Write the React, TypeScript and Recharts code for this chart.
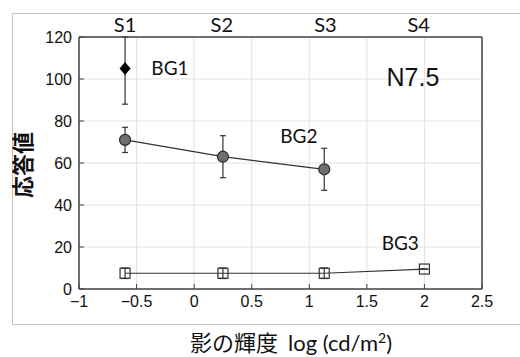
import React from 'react';
import { ComposedChart, Scatter, XAxis, YAxis, CartesianGrid, ErrorBar, ReferenceDot } from 'recharts';

const xTicks = [-1, -0.5, 0, 0.5, 1, 1.5, 2, 2.5];
const yTicks = [0, 20, 40, 60, 80, 100, 120];
const stimulusNames = ['S1', 'S2', 'S3', 'S4'];
const stimulusX = [-0.6, 0.24, 1.14, 1.95];

// BG1: single point, BG2 / BG3 connected
const bg1 = [{ x: -0.6, y: 105, err: [17, 15] }];
const bg2 = [
  { x: -0.6, y: 71, err: [6, 6] },
  { x: 0.25, y: 63, err: [10, 10] },
  { x: 1.13, y: 57, err: [10, 10] },
];
const bg3 = [
  { x: -0.6, y: 7.5, err: [2.5, 2.5] },
  { x: 0.25, y: 7.5, err: [2.5, 2.5] },
  { x: 1.13, y: 7.5, err: [2.5, 2.5] },
  { x: 2.0, y: 9.5, err: [0, 0] },
];

const notes = [
  { text: 'BG1', x: -0.21, y: 105, size: 19, font: 'Lato' },
  { text: 'N7.5', x: 1.9, y: 101, size: 25, font: 'Liberation Sans' },
  { text: 'BG2', x: 0.91, y: 72.5, size: 19, font: 'Lato' },
  { text: 'BG3', x: 1.79, y: 22, size: 19, font: 'Lato' },
];

const axisColor = '#444';
const numFont = 'Liberation Sans';
const fmt = (v: number) => String(v).replace('-', '\u2212');

const Diamond = (p: any) => (
  <path d={`M${p.cx},${p.cy - 6.5} L${p.cx + 5.5},${p.cy} L${p.cx},${p.cy + 6.5} L${p.cx - 5.5},${p.cy} Z`} fill="#000" />
);
const Dot = (p: any) => <circle cx={p.cx} cy={p.cy} r={5.5} fill="#6f6f6f" stroke="#2a2a2a" strokeWidth={1.2} />;
const Box = (p: any) => <rect x={p.cx - 5} y={p.cy - 5} width={10} height={10} fill="none" stroke="#333" strokeWidth={1.2} />;

export default function App() {
  return (
    <div style={{ position: 'fixed', left: 0, top: 0, width: 520, height: 357, background: '#fff' }}>
      <div style={{ position: 'absolute', left: 12, top: 13, width: 520, height: 310, border: '1px solid #c4c4c4' }} />
      <div style={{ position: 'absolute', left: 0, top: 0 }}>
        <ComposedChart width={520} height={357} margin={{ top: 36, right: 37, bottom: 0, left: 0 }}>
          <CartesianGrid stroke="#e2e2e2" />
          <XAxis
            type="number"
            dataKey="x"
            domain={[-1, 2.5]}
            ticks={xTicks}
            interval={0}
            allowDataOverflow
            height={68}
            tickSize={-5}
            tickMargin={12}
            tickFormatter={fmt}
            axisLine={{ stroke: axisColor, strokeWidth: 1.5 }}
            tickLine={{ stroke: axisColor }}
            tick={{ fill: '#111', fontSize: 16, fontFamily: numFont }}
          />
          <XAxis
            xAxisId="top"
            orientation="top"
            type="number"
            domain={[-1, 2.5]}
            ticks={xTicks}
            interval={0}
            allowDataOverflow
            height={1}
            tick={false}
            tickSize={-5}
            axisLine={{ stroke: axisColor, strokeWidth: 1.5 }}
            tickLine={{ stroke: axisColor }}
          />
          <YAxis
            type="number"
            dataKey="y"
            domain={[0, 120]}
            ticks={yTicks}
            interval={0}
            allowDataOverflow
            width={79}
            tickSize={-5}
            tickMargin={12}
            axisLine={{ stroke: axisColor, strokeWidth: 1.5 }}
            tickLine={{ stroke: axisColor }}
            tick={{ fill: '#111', fontSize: 16, fontFamily: numFont }}
          />
          <YAxis
            yAxisId="right"
            orientation="right"
            type="number"
            domain={[0, 120]}
            ticks={yTicks}
            interval={0}
            allowDataOverflow
            width={1}
            tick={false}
            tickSize={-5}
            axisLine={{ stroke: axisColor, strokeWidth: 1.5 }}
            tickLine={{ stroke: axisColor }}
          />
          <Scatter data={bg3} isAnimationActive={false} line={{ stroke: '#333', strokeWidth: 1.2 }} shape={Box}>
            <ErrorBar dataKey="err" direction="y" width={4} stroke="#333" strokeWidth={1.2} />
          </Scatter>
          <Scatter data={bg2} isAnimationActive={false} line={{ stroke: '#333', strokeWidth: 1.2 }} shape={Dot}>
            <ErrorBar dataKey="err" direction="y" width={3} stroke="#333" strokeWidth={1.2} />
          </Scatter>
          <Scatter data={bg1} isAnimationActive={false} shape={Diamond}>
            <ErrorBar dataKey="err" direction="y" width={3} stroke="#333" strokeWidth={1.2} />
          </Scatter>
          {notes.map((n) => (
            <ReferenceDot
              key={n.text}
              x={n.x}
              y={n.y}
              r={0}
              fill="none"
              stroke="none"
              label={{ value: n.text, position: 'center', fill: '#111', fontSize: n.size, fontFamily: n.font }}
            />
          ))}
          {stimulusX.map((sx, i) => (
            <ReferenceDot
              key={stimulusNames[i]}
              x={sx}
              y={120}
              r={0}
              fill="none"
              stroke="none"
              ifOverflow="visible"
              label={{ value: stimulusNames[i], position: 'top', offset: 5, fill: '#111', fontSize: 20, fontFamily: 'Lato' }}
            />
          ))}
        </ComposedChart>
      </div>
      <div
        style={{
          position: 'absolute',
          left: 21,
          top: 165,
          transform: 'translate(-50%, -50%) rotate(-90deg)',
          fontFamily: 'Noto Sans CJK JP',
          fontWeight: 'bold',
          fontSize: 22,
          whiteSpace: 'nowrap',
          color: '#111',
        }}
      >
        応答値
      </div>
      <div
        style={{
          position: 'absolute',
          left: 190,
          top: 330,
          whiteSpace: 'nowrap',
          color: '#111',
          lineHeight: 1,
        }}
      >
        <span style={{ fontFamily: 'Noto Sans CJK JP', fontSize: 22 }}>影の輝度</span>
        <span style={{ fontFamily: 'Lato', fontSize: 22, marginLeft: 10 }}>
          log (cd/m<sup style={{ fontSize: 14, lineHeight: 0 }}>2</sup>)
        </span>
      </div>
    </div>
  );
}
